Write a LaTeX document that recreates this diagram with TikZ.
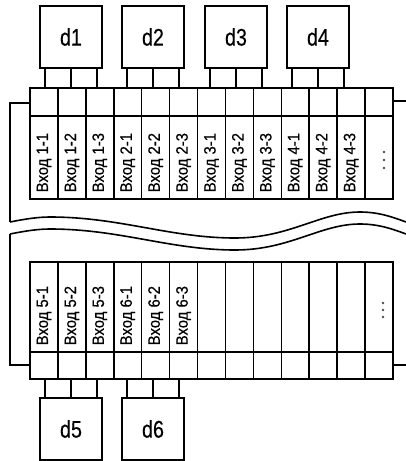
\documentclass[tikz,border=0pt]{standalone}
\usepackage{fontspec}
\setmainfont{Liberation Sans}
\newfontfamily\devfont{Liberation Sans}[FakeStretch=0.82,FakeBold=0.4]
\newfontfamily\lblfont{Liberation Sans}[FakeStretch=0.9,FakeBold=0.4]
\begin{document}
\begin{tikzpicture}[x=1pt,y=-1pt,line width=1.6pt,
  dev/.style={draw,minimum width=62pt,minimum height=62pt,inner sep=0pt,font=\devfont\fontsize{24}{24}\selectfont},
  lbl/.style={rotate=90,anchor=west,inner sep=0pt,font=\lblfont\fontsize{16.5}{16.5}\selectfont},
  dot/.style={circle,fill=black!70,inner sep=0pt,minimum size=2.6pt},
  topcell/.style={draw,minimum width=27.92pt,minimum height=28pt,inner sep=0pt},
  labcellA/.style={draw,minimum width=27.92pt,minimum height=83pt,inner sep=0pt},
  labcellB/.style={draw,minimum width=27.92pt,minimum height=90pt,inner sep=0pt},
  botcell/.style={draw,minimum width=27.92pt,minimum height=27pt,inner sep=0pt},
  wire/.style={line width=1.6pt}]
\useasboundingbox (0,0) rectangle (406,461);
% enclosure
\draw (30,103) -- (10,103) -- (10,222);
\draw (393,101) -- (406,101);
\draw (30,365) -- (10,365) -- (10,234);
\draw (393,365) -- (406,365);
\draw (10,222) .. controls (25,219) and (38,217) .. (50,217)
  .. controls (120,217) and (170,238) .. (235,238)
  .. controls (290,238) and (320,212) .. (360,212)
  .. controls (380,212) and (395,218) .. (406,222);
\draw (10,234) .. controls (25,231) and (38,229) .. (50,229)
  .. controls (120,229) and (170,250) .. (235,250)
  .. controls (290,250) and (320,224) .. (360,224)
  .. controls (380,224) and (395,230) .. (406,234);
% terminal strips
\foreach \i in {1,...,13}{
  \node[topcell] (t\i) at ({30+27.923*(\i-0.5)},102) {};
  \node[labcellA] (ta\i) at ({30+27.923*(\i-0.5)},157.5) {};
  \node[labcellB] (ba\i) at ({30+27.923*(\i-0.5)},307) {};
  \node[botcell] (b\i) at ({30+27.923*(\i-0.5)},365.5) {};
}
\foreach \g in {1,...,4}{
  \foreach \k in {1,2,3}{
    \pgfmathtruncatemacro{\c}{3*(\g-1)+\k}
    \node[lbl] (lt\c) at ({30+27.923*(\c-0.5)},193) {Вход \g-\k};
  }
}
\foreach \g in {5,6}{
  \foreach \k in {1,2,3}{
    \pgfmathtruncatemacro{\c}{3*(\g-5)+\k}
    \node[lbl] (lb\c) at ({30+27.923*(\c-0.5)},346) {Вход \g-\k};
  }
}
\foreach \y [count=\n] in {152,160,168}{
  \node[dot] (dt\n) at (384,\y) {};
}
\foreach \y [count=\n] in {303,310,317}{
  \node[dot] (db\n) at (383,\y) {};
}
% devices
\node[dev] (d1) at (71,37) {d1};
\node[dev] (d2) at (153,37) {d2};
\node[dev] (d3) at (236,37) {d3};
\node[dev] (d4) at (318,37) {d4};
\node[dev] (d5) at (71,429) {d5};
\node[dev] (d6) at (153,429) {d6};
\foreach \d/\t in {d1/t1,d2/t4,d3/t7,d4/t10}{
  \foreach \s in {-26,0,26}{
    \draw[wire] ([xshift=\s pt]\d.south) -- ([xshift=\s pt]\d.south |- \t.north);
  }
}
\foreach \d/\t in {d5/b1,d6/b4}{
  \foreach \s in {-26,0,26}{
    \draw[wire] ([xshift=\s pt]\d.north) -- ([xshift=\s pt]\d.north |- \t.south);
  }
}
\end{tikzpicture}
\end{document}
